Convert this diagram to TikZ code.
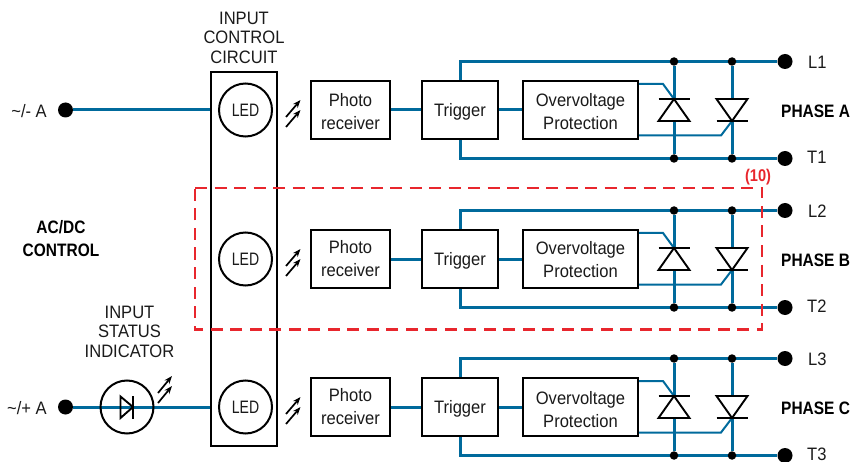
\documentclass[tikz,border=0pt]{standalone}
\usepackage{fontspec}
\setmainfont[FakeStretch=0.92,BoldFeatures={FakeStretch=0.86}]{Liberation Sans}
\newfontfamily\narrowfont[FakeStretch=0.78]{Liberation Sans}
\usetikzlibrary{arrows.meta}
\pgfdeclarelayer{wires}
\pgfsetlayers{wires,main}
\definecolor{wire}{HTML}{006A9C}
\definecolor{redbox}{HTML}{E8262D}
\definecolor{inkk}{HTML}{1A1A1A}
\tikzset{
 x=1pt,y=-1pt,
 txt/.style={font=\fontsize{18}{19.5}\selectfont,text=inkk,inner sep=0,align=center},
 bold/.style={font=\fontsize{18}{23}\selectfont\bfseries,text=black,inner sep=0,align=center},
 blockbox/.style={draw=black,line width=2pt,fill=white,minimum height=58pt,inner sep=0},
 boxtext/.style={inner sep=0,align=center,font=\fontsize{18}{23}\selectfont,text=inkk},
 wireline/.style={draw=wire,line width=3pt},
 gateline/.style={draw=wire,line width=2pt},
 bigdot/.style={circle,fill=black,minimum size=15pt,inner sep=0},
 smalldot/.style={circle,fill=black,minimum size=8.5pt,inner sep=0},
 ledcircle/.style={circle,draw=black,line width=2pt,fill=white,minimum size=53pt,inner sep=0,font=\fontsize{18}{19}\narrowfont,text=inkk},
 thy/.style={draw=black,line width=1.9pt,fill=white,line join=miter},
 light/.style={draw=black,line width=1.7pt,-{Stealth[length=8pt,width=6pt]}},
}
% #6 and #7: vertical text offsets of the Photo and Overvoltage blocks
\newcommand{\phaserow}[7]{%
\begin{scope}[shift={(0,#2)}]
 \node[ledcircle] (led#1) at (245.5,0) {LED};
 \node[blockbox,minimum width=79pt,label={[boxtext,yshift=#6]center:Photo\\receiver}] (photo#1) at (350.5,0) {};
 \node[blockbox,minimum width=76pt,label={[boxtext,yshift=-1.5pt]center:Trigger}] (trig#1) at (460,0) {};
 \node[blockbox,minimum width=115pt,label={[boxtext,yshift=#7]center:Overvoltage\\Protection}] (over#1) at (580.5,0) {};
 \node[bigdot] (L#1) at (785,-48.5) {};
 \node[bigdot] (T#1) at (785,48.5) {};
 \node[smalldot] (ja#1) at (674,-48.5) {};
 \node[smalldot] (jb#1) at (732,-48.5) {};
 \node[smalldot] (jc#1) at (674,48.5) {};
 \node[smalldot] (jd#1) at (732,48.5) {};
 \node[txt,anchor=west] (Ll#1) at (808,-48) {#3};
 \node[txt,anchor=west] (Tl#1) at (807,47.5) {#4};
 \node[bold,anchor=west] (ph#1) at (781,1) {#5};
 \coordinate (ga#1) at (638,-26);
 \coordinate (gb#1) at (663,-26);
 \coordinate (gc#1) at (674,-11);
 \coordinate (gd#1) at (638,25.5);
 \coordinate (ge#1) at (721,25.5);
 \coordinate (gf#1) at (732,11);
 \begin{pgfonlayer}{wires}
 \draw[wireline] (photo#1) -- (trig#1);
 \draw[wireline] (trig#1) -- (over#1);
 \draw[wireline] (trig#1.north) |- (L#1);
 \draw[wireline] (trig#1.south) |- (T#1);
 \draw[wireline] (ja#1) -- (jc#1);
 \draw[wireline] (jb#1) -- (jd#1);
 \draw[gateline] (ga#1) -- (gb#1) -- (gc#1);
 \draw[gateline] (gd#1) -- (ge#1) -- (gf#1);
 \end{pgfonlayer}
 \draw[thy] (674,-11) -- (689.5,11) -- (658.5,11) -- cycle;
 \draw[thy] (658.5,-11) -- (689.5,-11);
 \draw[thy] (732,11) -- (716.5,-11) -- (747.5,-11) -- cycle;
 \draw[thy] (716.5,11) -- (747.5,11);
 \draw[light] (286,7) -- (300.5,-10);
 \draw[light] (286,17) -- (300.5,0);
\end{scope}}
\begin{document}
\begin{tikzpicture}
\useasboundingbox (0,0) rectangle (853,462);
\node[draw=black,line width=2pt,minimum width=66pt,minimum height=374pt,inner sep=0] (ctrl) at (244,259) {};
\node[bigdot] (inA) at (65.5,110) {};
\node[bigdot] (inC) at (65.5,407) {};
\begin{pgfonlayer}{wires}
\draw[wireline] (inA) -- (inA -| ctrl.west);
\draw[wireline] (inC) -- (inC -| ctrl.west);
\end{pgfonlayer}
\phaserow{A}{110}{L1}{T1}{PHASE A}{-1.5pt}{-2pt}
\phaserow{B}{259}{L2}{T2}{PHASE B}{0pt}{-0.5pt}
\phaserow{C}{407}{L3}{T3}{PHASE C}{0pt}{-2.5pt}
\node[txt,anchor=east] (la) at (47,111) {\textasciitilde/- A};
\node[txt,anchor=east] (lc) at (47,408) {\textasciitilde/+ A};
\node[txt] (title) at (244,37.5) {INPUT\\CONTROL\\CIRCUIT};
\node[bold] (acdc) at (61,238.5) {AC/DC\\CONTROL};
\node[txt] (status) at (129.5,331.5) {INPUT\\STATUS\\INDICATOR};
\node[circle,draw=black,line width=2pt,minimum size=53pt,inner sep=0] (stat) at (127,407) {};
\draw[thy,fill=none] (120.5,396.5) -- (133,407) -- (120.5,418) -- cycle;
\draw[thy] (133,396) -- (133,419);
\draw[light] (158,393) -- (172,376);
\draw[light] (158,403) -- (172,386);
\draw[redbox,line width=2.6pt,dash pattern=on 12pt off 7.5pt] (195,188) -- (762,188) -- (762,329.5) -- (195,329.5) -- cycle;
\node[bold,text=redbox,font=\fontsize{17}{18}\selectfont\bfseries] (ten) at (758,177) {(10)};
\end{tikzpicture}
\end{document}
